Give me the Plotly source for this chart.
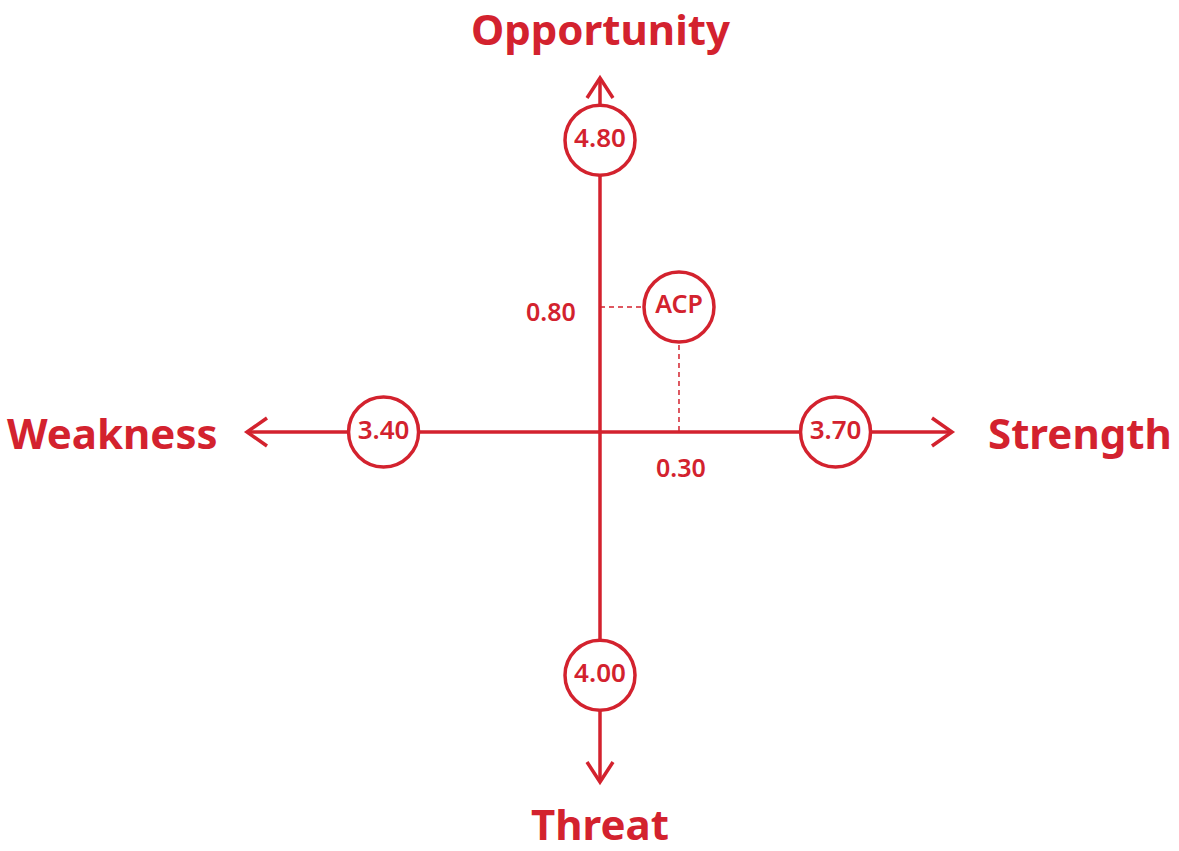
import plotly.graph_objects as go

# scores
strength = 3.70
weakness = 3.40
opportunity = 4.80
threat = 4.00
acp_x = [0.30]
acp_y = [0.80]
axis_names = ["Opportunity", "Threat", "Weakness", "Strength"]

RED = "#d3222e"
FONT = "Noto Sans"
W, H = 1179, 851
CX, CY = 600, 432          # pixel position of the origin
BX, BY = 63.66, 60.8       # px per unit, main axes
BX2, BY2 = 263.3, 156.25   # px per unit, ACP detail axes


def px(x):
    return x / W


def py(y):
    return 1 - y / H


fig = go.Figure()

# dashed guides from ACP to the axes
fig.add_trace(go.Scatter(
    x=[0, acp_x[0], acp_x[0]], y=[acp_y[0], acp_y[0], 0],
    mode="lines", xaxis="x2", yaxis="y2",
    line=dict(color=RED, width=1.5, dash="5px,4px"),
    hoverinfo="skip"))

# value circles on the axes
fig.add_trace(go.Scatter(
    x=[0, 0, -weakness, strength],
    y=[opportunity, -threat, 0, 0],
    mode="markers+text",
    text=["%.2f" % v for v in [opportunity, threat, weakness, strength]],
    textposition="middle center",
    textfont=dict(family=FONT, size=26, color=RED, weight=600),
    marker=dict(size=70, color="white", line=dict(color=RED, width=3.5)),
    hoverinfo="skip"))

# ACP
fig.add_trace(go.Scatter(
    x=acp_x, y=acp_y, mode="markers+text", xaxis="x2", yaxis="y2",
    text=["ACP"], textposition="middle center",
    textfont=dict(family=FONT, size=25, color=RED, weight=600),
    marker=dict(size=70, color="white", line=dict(color=RED, width=3.5)),
    hoverinfo="skip"))

shapes = []
line = dict(color=RED, width=3.5)
# axes
shapes.append(dict(type="line", xref="paper", yref="paper", x0=px(CX), x1=px(CX),
                   y0=py(78), y1=py(782), line=line, layer="below"))
shapes.append(dict(type="line", xref="paper", yref="paper", x0=px(247), x1=px(952),
                   y0=py(CY), y1=py(CY), line=line, layer="below"))
# arrow heads
heads = [
    [(CX - 13, 98), (CX, 78), (CX + 13, 98)],
    [(CX - 13, 762), (CX, 782), (CX + 13, 762)],
    [(267, CY - 14), (247, CY), (267, CY + 14)],
    [(932, CY - 14), (952, CY), (932, CY + 14)],
]
for pts in heads:
    path = "M %f,%f L %f,%f L %f,%f" % (px(pts[0][0]), py(pts[0][1]), px(pts[1][0]), py(pts[1][1]),
                                        px(pts[2][0]), py(pts[2][1]))
    shapes.append(dict(type="path", xref="paper", yref="paper", path=path, line=line, layer="below"))

annotations = []
title_font = dict(family=FONT, size=42, color=RED, weight="bold")
annotations.append(dict(text=axis_names[0], x=px(CX), y=py(28), xref="paper", yref="paper",
                        showarrow=False, font=title_font, xanchor="center", yanchor="middle"))
annotations.append(dict(text=axis_names[1], x=px(CX), y=py(823), xref="paper", yref="paper",
                        showarrow=False, font=title_font, xanchor="center", yanchor="middle"))
annotations.append(dict(text=axis_names[2], x=px(220), y=py(CY), xref="paper", yref="paper",
                        showarrow=False, font=title_font, xanchor="right", yanchor="middle"))
annotations.append(dict(text=axis_names[3], x=px(986), y=py(CY), xref="paper", yref="paper",
                        showarrow=False, font=title_font, xanchor="left", yanchor="middle"))

small_font = dict(family=FONT, size=25, color=RED, weight=600)
annotations.append(dict(text="%.2f" % acp_y[0], x=0, y=acp_y[0], xref="x2", yref="y2",
                        showarrow=False, font=small_font, xanchor="right", yanchor="middle",
                        xshift=-22, yshift=-4))
annotations.append(dict(text="%.2f" % acp_x[0], x=acp_x[0], y=0, xref="x2", yref="y2",
                        showarrow=False, font=small_font, xanchor="center", yanchor="top",
                        xshift=2, yshift=-16))

hidden = dict(visible=False, showgrid=False, zeroline=False, fixedrange=True)
fig.update_layout(
    width=W, height=H,
    margin=dict(l=0, r=0, t=0, b=0),
    paper_bgcolor="white", plot_bgcolor="white",
    showlegend=False,
    shapes=shapes, annotations=annotations,
    xaxis=dict(range=[-CX / BX, (W - CX) / BX], domain=[0, 1], **hidden),
    yaxis=dict(range=[-(H - CY) / BY, CY / BY], domain=[0, 1], **hidden),
    xaxis2=dict(range=[-CX / BX2, (W - CX) / BX2], overlaying="x", **hidden),
    yaxis2=dict(range=[-(H - CY) / BY2, CY / BY2], overlaying="y", **hidden),
)

# drop the page's default body margin so the figure fills the window
fig.write_html("out.html", config={"displayModeBar": False},
               post_script="document.body.style.margin='0';")
